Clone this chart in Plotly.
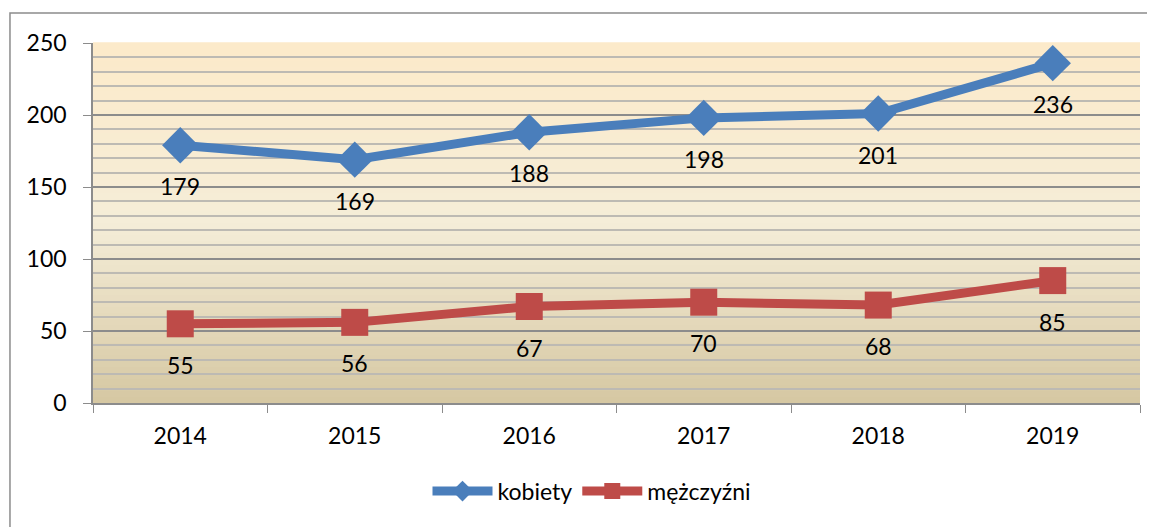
import plotly.graph_objects as go

years = ["2014", "2015", "2016", "2017", "2018", "2019"]
kobiety = [179, 169, 188, 198, 201, 236]
mezczyzni = [55, 56, 67, 70, 68, 85]
series_names = ["kobiety", "mężczyźni"]

BLUE = "#4A7EBB"
RED = "#BE4B48"
FONT = "Lato"

fig = go.Figure()
fig.add_trace(go.Scatter(x=years, y=kobiety, name=series_names[0], mode="lines+markers",
                         line=dict(color=BLUE, width=9),
                         marker=dict(symbol="diamond", size=28, color=BLUE)))
fig.add_trace(go.Scatter(x=years, y=mezczyzni, name=series_names[1], mode="lines+markers",
                         line=dict(color=RED, width=9),
                         marker=dict(symbol="square", size=27, color=RED)))

# data labels (category index positions)
annotations = []
for ys in (kobiety, mezczyzni):
    for i, yv in enumerate(ys):
        annotations.append(dict(x=i, y=yv, xref="x", yref="y", text=str(yv), showarrow=False,
                                yshift=-41, font=dict(family=FONT, size=23, color="#000000")))

# gradient background
shapes = []
N = 60
top = (252, 234, 202)
mid = (245, 237, 216)
bot = (214, 200, 163)
def lerp(a, b, t):
    return tuple(int(round(a[i] + (b[i] - a[i]) * t)) for i in range(3))
for i in range(N):
    f = i / (N - 1)  # 0 at bottom, 1 at top
    if f > 0.5:
        c = lerp(mid, top, (f - 0.5) / 0.5)
    else:
        c = lerp(bot, mid, f / 0.5)
    shapes.append(dict(type="rect", xref="x domain", yref="y domain",
                       x0=0, x1=1, y0=i / N, y1=(i + 1) / N + 0.002,
                       fillcolor="rgb(%d,%d,%d)" % c, line=dict(width=0), layer="below"))
# outer chart border
shapes.append(dict(type="rect", xref="paper", yref="paper", x0=-0.0793, x1=1.03,
                   y0=-0.4, y1=1.0833, line=dict(color="#8C8C8C", width=1.5),
                   fillcolor="rgba(0,0,0,0)", layer="above"))

# page body has an 8px margin: shrink figure and left/top margins accordingly
fig.update_layout(
    width=1147, height=519,
    margin=dict(l=85, r=15, t=35, b=124),
    paper_bgcolor="white", plot_bgcolor="rgba(0,0,0,0)",
    font=dict(family=FONT, size=23, color="#000000"),
    showlegend=True,
    legend=dict(orientation="h", x=0.4766, xanchor="center", y=-0.185, yanchor="top",
                font=dict(family=FONT, size=23), itemwidth=60, bgcolor="rgba(0,0,0,0)"),
    annotations=annotations,
    shapes=shapes,
)
fig.update_xaxes(type="category", range=[-0.5, 5.5], tickson="boundaries", ticks="outside",
                 ticklen=8, tickcolor="#8C8C8C", showline=True, linecolor="#8C8C8C",
                 linewidth=1.5, showgrid=False, tickfont=dict(size=23), ticklabelstandoff=12,
                 tickangle=0)
fig.update_yaxes(range=[0, 250], dtick=50, ticks="outside", ticklen=8, tickcolor="#8C8C8C",
                 showline=True, linecolor="#8C8C8C", linewidth=1.5,
                 showgrid=True, gridcolor="#8C8C8C", gridwidth=1.5,
                 minor=dict(dtick=10, showgrid=True, gridcolor="#BDBAB3", gridwidth=1.5),
                 zeroline=False, tickfont=dict(size=23), ticklabelstandoff=12)

fig.write_html("out.html")
